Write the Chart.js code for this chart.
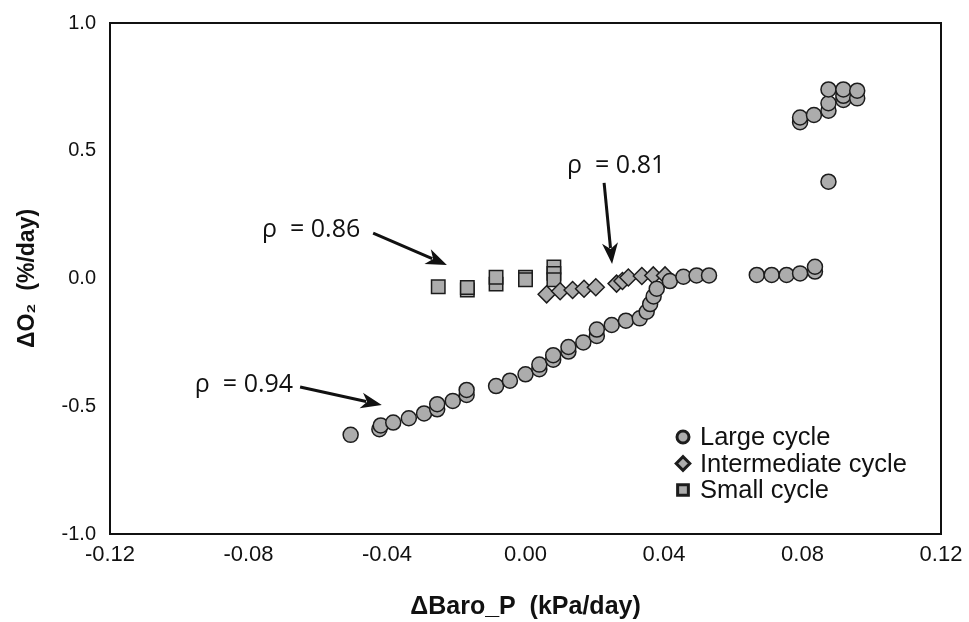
<!DOCTYPE html>
<html>
<head>
<meta charset="utf-8">
<script src="https://cdn.jsdelivr.net/npm/chart.js@4.4.1/dist/chart.umd.min.js"></script>
<style>
  html, body { margin: 0; padding: 0; background: #fff; }
</style>
</head>
<body>
<canvas id="chart" width="969" height="622"></canvas>
<script>
// large cycle (circles)
const largeX = [-0.0505, -0.0422, -0.0418, -0.0382, -0.0337, -0.0293, -0.0255, -0.0255, -0.0210, -0.0170,
  -0.0170, -0.0085, -0.0045, 0.0000, 0.0040, 0.0040, 0.0080, 0.0080, 0.0124, 0.0124,
  0.0167, 0.0206, 0.0206, 0.0249, 0.0290, 0.0330, 0.0350, 0.0360, 0.0370, 0.0379,
  0.0417, 0.0456, 0.0494, 0.0530, 0.0668, 0.0711, 0.0754, 0.0793, 0.0836, 0.0836,
  0.0793, 0.0793, 0.0833, 0.0875, 0.0875, 0.0875, 0.0918, 0.0918, 0.0918, 0.0958, 0.0958, 0.0875];
const largeY = [-0.612, -0.590, -0.575, -0.564, -0.547, -0.528, -0.512, -0.492, -0.479, -0.456,
  -0.436, -0.421, -0.400, -0.375, -0.355, -0.337, -0.318, -0.300, -0.286, -0.268,
  -0.250, -0.225, -0.200, -0.182, -0.165, -0.156, -0.130, -0.100, -0.070, -0.040,
  -0.010, 0.007, 0.012, 0.012, 0.014, 0.014, 0.014, 0.020, 0.027, 0.046,
  0.612, 0.630, 0.640, 0.657, 0.686, 0.740, 0.699, 0.715, 0.740, 0.705, 0.735, 0.379];

// intermediate cycle (diamonds)
const interX = [0.0061, 0.0100, 0.0136, 0.0169, 0.0203, 0.0263, 0.0280, 0.0297, 0.0336, 0.0369, 0.0403];
const interY = [-0.062, -0.050, -0.045, -0.040, -0.034, -0.020, -0.010, 0.004, 0.010, 0.012, 0.012];

// small cycle (squares)
const smallX = [-0.0252, -0.0168, -0.0168, -0.0085, -0.0085, 0.0000, 0.0000, 0.0082, 0.0082, 0.0082];
const smallY = [-0.032, -0.045, -0.035, -0.022, 0.005, 0.005, -0.005, 0.045, 0.020, -0.005];

const seriesNames = ["Large cycle", "Intermediate cycle", "Small cycle"];
const xTicks = [-0.12, -0.08, -0.04, 0.00, 0.04, 0.08, 0.12];
const yTicks = [-1.0, -0.5, 0.0, 0.5, 1.0];

const notes = [
  { text: "ρ  = 0.86", at: [-0.0761, 0.190], from: [-0.0440, 0.178], to: [-0.0227, 0.053] },
  { text: "ρ  = 0.81", at: [0.0120, 0.440], from: [0.0227, 0.374], to: [0.0250, 0.057] },
  { text: "ρ  = 0.94", at: [-0.0955, -0.417], from: [-0.0651, -0.425], to: [-0.0415, -0.495] }
];

const toPoints = (xs, ys) => xs.map((x, i) => ({ x: x, y: ys[i] }));

const markerFill = "#acacac";
const markerEdge = "#1c1c1c";
const styles = [
  { pointStyle: "circle", radius: 7.5 },
  { pointStyle: "rectRot", radius: 8.5 },
  { pointStyle: "rect", radius: 9.5 }
];

const annotations = {
  id: "annotations",
  afterDatasetsDraw(chart) {
    const ctx = chart.ctx;
    const xs = chart.scales.x, ys = chart.scales.y;
    ctx.save();
    ctx.fillStyle = "#111";
    ctx.strokeStyle = "#111";
    ctx.font = "25px 'Open Sans', sans-serif";
    ctx.textBaseline = "middle";
    ctx.textAlign = "left";
    notes.forEach((n) => {
      ctx.fillText(n.text, xs.getPixelForValue(n.at[0]), ys.getPixelForValue(n.at[1]));
      const x1 = xs.getPixelForValue(n.from[0]), y1 = ys.getPixelForValue(n.from[1]);
      const x2 = xs.getPixelForValue(n.to[0]), y2 = ys.getPixelForValue(n.to[1]);
      const ang = Math.atan2(y2 - y1, x2 - x1);
      const head = 21, half = 8;
      const bx = x2 - head * Math.cos(ang), by = y2 - head * Math.sin(ang);
      ctx.lineWidth = 3;
      ctx.beginPath();
      ctx.moveTo(x1, y1);
      ctx.lineTo(bx + 5 * Math.cos(ang), by + 5 * Math.sin(ang));
      ctx.stroke();
      ctx.beginPath();
      ctx.moveTo(x2, y2);
      ctx.lineTo(bx + half * Math.sin(ang), by - half * Math.cos(ang));
      ctx.lineTo(bx + 6 * Math.cos(ang), by + 6 * Math.sin(ang));
      ctx.lineTo(bx - half * Math.sin(ang), by + half * Math.cos(ang));
      ctx.closePath();
      ctx.fill();
    });

    // legend inside the plot
    const area = chart.chartArea;
    const lx = area.right - 258, ly = area.bottom - 97, gap = 26.5;
    ctx.font = "25.5px 'Liberation Sans', Arial, sans-serif";
    seriesNames.forEach((name, i) => {
      const y = ly + i * gap;
      ctx.fillStyle = markerFill;
      ctx.strokeStyle = markerEdge;
      Chart.helpers.drawPoint(ctx, {
        pointStyle: styles[i].pointStyle,
        radius: styles[i].radius * 0.8,
        rotation: 0,
        borderWidth: 1.5
      }, lx, y);
      ctx.fillStyle = "#111";
      ctx.fillText(name, lx + 17, y + 1);
    });
    ctx.restore();
  }
};

new Chart(document.getElementById("chart").getContext("2d"), {
  type: "scatter",
  data: {
    datasets: [
      { label: seriesNames[0], data: toPoints(largeX, largeY) },
      { label: seriesNames[1], data: toPoints(interX, interY) },
      { label: seriesNames[2], data: toPoints(smallX, smallY) }
    ].map((ds, i) => Object.assign(ds, {
      pointStyle: styles[i].pointStyle,
      pointRadius: styles[i].radius,
      pointHoverRadius: styles[i].radius,
      backgroundColor: markerFill,
      borderColor: markerEdge,
      borderWidth: 1.5
    }))
  },
  options: {
    responsive: false,
    animation: false,
    layout: { padding: { top: 23, right: 28, left: 0, bottom: 0 } },
    plugins: {
      legend: { display: false },
      tooltip: { enabled: false }
    },
    scales: {
      x: {
        type: "linear",
        min: -0.12,
        max: 0.12,
        afterBuildTicks: (scale) => { scale.ticks = xTicks.map((v) => ({ value: v })); },
        afterFit: (scale) => { scale.height = 88; },
        grid: { display: false, drawTicks: true, tickLength: 6, tickColor: "#111" },
        border: { display: true, color: "#111", width: 2 },
        ticks: {
          color: "#111",
          padding: 2,
          maxRotation: 0,
          font: { family: "'Liberation Sans Narrow', 'Liberation Sans', Arial", size: 22 },
          callback: (v) => v.toFixed(2)
        },
        title: {
          display: true,
          text: "ΔBaro_P  (kPa/day)",
          color: "#111",
          padding: { top: 20, bottom: 0 },
          font: { family: "'Liberation Sans Narrow', 'Liberation Sans', Arial", size: 25, weight: "bold" }
        }
      },
      y: {
        type: "linear",
        min: -1,
        max: 1,
        afterBuildTicks: (scale) => { scale.ticks = yTicks.map((v) => ({ value: v })); },
        afterFit: (scale) => { scale.width = 110; },
        grid: { display: false, drawTicks: true, tickLength: 6, tickColor: "#111" },
        border: { display: true, color: "#111", width: 2 },
        ticks: {
          color: "#111",
          padding: 8,
          font: { family: "'Liberation Sans', Arial", size: 20 },
          callback: (v) => v.toFixed(1)
        },
        title: {
          display: true,
          text: "ΔO₂  (%/day)",
          color: "#111",
          padding: { top: 14, bottom: 0 },
          font: { family: "'Liberation Sans', Arial", size: 23, weight: "bold" }
        }
      }
    }
  },
  plugins: [annotations, {
    id: "frame",
    afterDraw(chart) {
      const a = chart.chartArea, ctx = chart.ctx;
      ctx.save();
      ctx.strokeStyle = "#111";
      ctx.lineWidth = 2;
      ctx.beginPath();
      ctx.moveTo(a.left, a.top);
      ctx.lineTo(a.right, a.top);
      ctx.lineTo(a.right, a.bottom);
      ctx.stroke();
      ctx.restore();
    }
  }]
});
</script>
</body>
</html>
